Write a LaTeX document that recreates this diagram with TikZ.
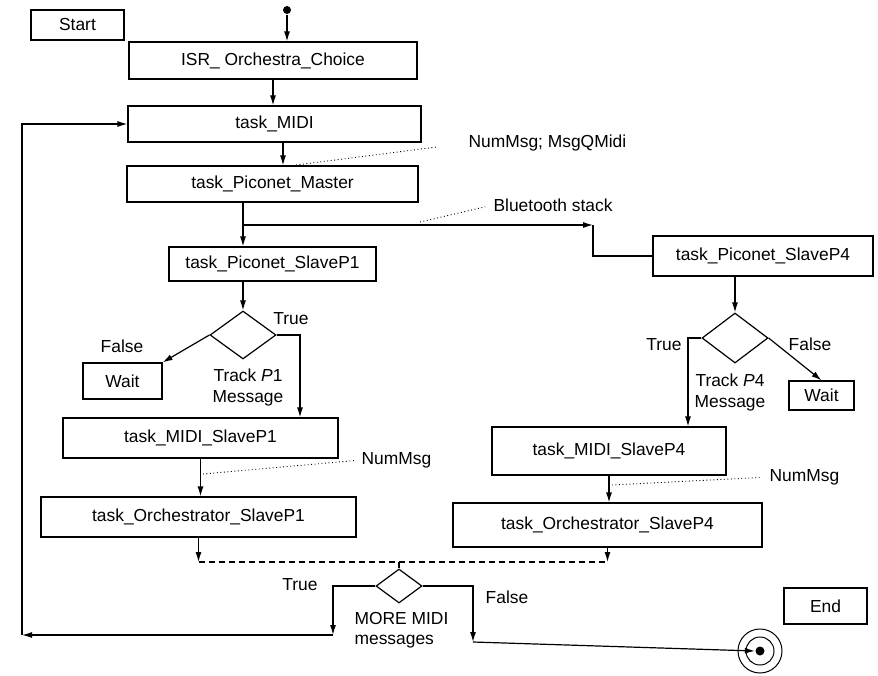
\documentclass[tikz,border=0pt]{standalone}
\usepackage{fontspec}
\setmainfont{Liberation Sans}
\usetikzlibrary{shapes.geometric,arrows.meta}
\begin{document}
\begin{tikzpicture}[x=1pt,y=-1pt,
  font=\fontsize{17.4}{21}\selectfont,
  line width=1.2pt,
  >={Latex[length=10pt,width=6pt]},
  box/.style={draw, rectangle, inner sep=0pt},
  dia/.style={draw, diamond, inner sep=0pt},
  dots/.style={line width=0.9pt, dash pattern=on 0.9pt off 2.6pt},
  dashline/.style={line width=1.1pt, dash pattern=on 6pt off 4pt},
  lbl/.style={inner sep=0pt}
]
\useasboundingbox (0,0) rectangle (878,675);

% nodes
\node[circle, fill, inner sep=0pt, minimum size=8pt] (dot) at (287,10) {};
\node[box, minimum width=93, minimum height=30] (start) at (77.5,25) {Start};
\node[box, minimum width=288, minimum height=37] (isr) at (273,60.5) {ISR\_ Orchestra\_Choice};
\node[box, minimum width=293, minimum height=36] (midi) at (274.5,124) {task\_MIDI};
\node[box, minimum width=291, minimum height=36] (master) at (272.5,184) {task\_Piconet\_Master};
\node[box, minimum width=207, minimum height=34] (sp1) at (272.5,264) {task\_Piconet\_SlaveP1};
\node[box, minimum width=220, minimum height=40] (sp4) at (763,256) {task\_Piconet\_SlaveP4};
\node[dia, minimum width=66, minimum height=48] (d1) at (243,335) {};
\node[dia, minimum width=66, minimum height=50] (d4) at (735,338) {};
\node[box, minimum width=79, minimum height=36] (wait1) at (122.5,381) {Wait};
\node[box, minimum width=65, minimum height=29] (wait4) at (821.5,395.5) {Wait};
\node[box, minimum width=275, minimum height=40] (ms1) at (200.5,438) {task\_MIDI\_SlaveP1};
\node[box, minimum width=234, minimum height=48] (ms4) at (609,451) {task\_MIDI\_SlaveP4};
\node[box, minimum width=315, minimum height=40] (or1) at (198.5,517) {task\_Orchestrator\_SlaveP1};
\node[box, minimum width=309, minimum height=44] (or4) at (607.5,525) {task\_Orchestrator\_SlaveP4};
\node[dia, minimum width=46, minimum height=34] (d5) at (399,586) {};
\node[box, minimum width=83, minimum height=36] (endb) at (825.5,606) {End};
\node[circle, draw, inner sep=0pt, minimum size=44pt, line width=1pt] (endo) at (760,651) {};
\node[circle, draw, inner sep=0pt, minimum size=28pt, line width=1pt] (endm) at (760,651) {};
\node[circle, fill, inner sep=0pt, minimum size=9pt] (enddot) at (760,651) {};

% labels
\node[lbl] (t1) at (291,319) {True};
\node[lbl] (f1) at (122,346) {False};
\node[lbl, align=center] (tr1) at (248,387.5) {Track \textit{P}1\\Message};
\node[lbl] (t4) at (664,345) {True};
\node[lbl] (f4) at (810,344) {False};
\node[lbl, align=center] (tr4) at (730,392.5) {Track \textit{P}4\\Message};
\node[lbl] (t5) at (300,585) {True};
\node[lbl] (f5) at (507,597) {False};
\node[lbl, align=left, anchor=west, font=\fontsize{17.4}{20}\selectfont] (more) at (354,630) {MORE MIDI\\messages};
\node[lbl, anchor=west] (lq) at (468,143) {NumMsg; MsgQMidi};
\node[lbl, anchor=west] (lbt) at (493,205) {Bluetooth stack};
\node[lbl, anchor=west] (ln1) at (361,460) {NumMsg};
\node[lbl, anchor=west] (ln4) at (769,477) {NumMsg};

% helper coordinates
\coordinate (jy) at (0,225);
\coordinate (j) at (d1 |- jy);
\coordinate (bt) at (593,225);
\coordinate (t1x) at (300,0);
\coordinate (t4x) at (688,0);
\coordinate (dly) at (0,562);
\coordinate (c1) at (333,635);
\coordinate (c2) at (22,635);
\coordinate (c3) at (473,642);
\path ([xshift=8.5pt]midi.south) coordinate (m1);
\coordinate (q0) at (296,165);
\coordinate (b0) at (420,222);
\coordinate (n10) at (203,474);
\coordinate (n40) at (612,485);

% connectors
\draw[->] (dot) -- (dot |- isr.north);
\draw[->] (isr.south) -- (isr.south |- midi.north);
\draw[->] (m1) -- (m1 |- master.north);
\draw[->] (master.south -| d1) -- (sp1.north -| d1);
\draw[->] (sp1.south -| d1) -- (d1.north);
\draw[->] (j) -- (bt);
\draw (bt) |- (sp4.west);
\draw[->] (sp4.south -| d4) -- (d4.north);
\draw[->] (d1.west) -- (wait1.north east);
\draw[->] (d1.east) -| (t1x |- ms1.north);
\draw[->] (d4.east) -- (wait4.north);
\draw[->] (d4.west) -| (t4x |- ms4.north);
\draw[->] (ms1.south) -- (ms1.south |- or1.north);
\draw[->] (ms4.south) -- (ms4.south |- or4.north);
\draw[->] (or1.south) -- (or1.south |- dly);
\draw[->] (or4.south) -- (or4.south |- dly);
\draw[dashline] (or1.south |- dly) -- (or4.south |- dly);
\draw (d5.north |- dly) -- (d5.north);
\draw[->] (d5.west) -| (c1);
\draw[->] (c1) -- (c2);
\draw[->] (c2) |- (midi.west);
\draw[->] (d5.east) -| (c3);
\draw[->] (c3) -- (enddot.west);

% dotted annotations
\draw[dots, shorten >=30pt] (q0) -- (lq.west);
\draw[dots, shorten >=8pt] (b0) -- (lbt.west);
\draw[dots, shorten >=6pt] (n10) -- (ln1.west);
\draw[dots, shorten >=8pt] (n40) -- (ln4.west);
\end{tikzpicture}
\end{document}
